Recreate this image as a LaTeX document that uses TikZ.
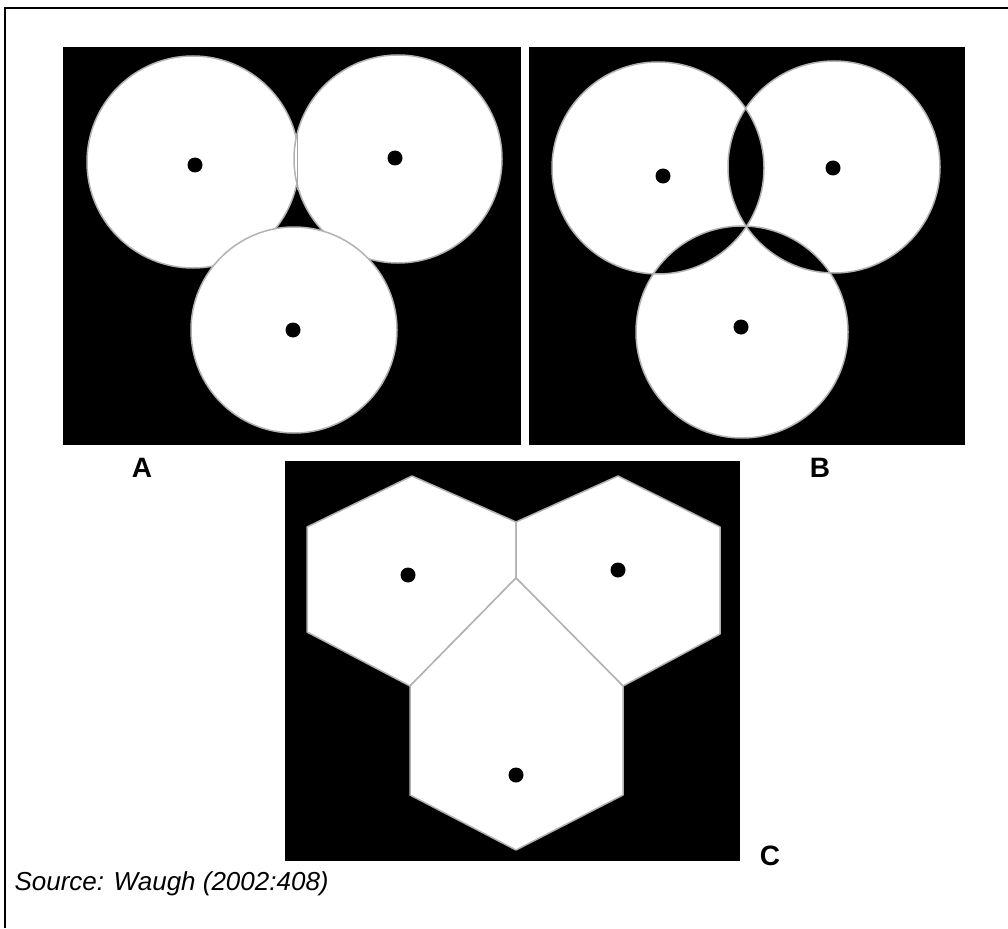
\documentclass[tikz,border=0pt]{standalone}
\usepackage{fontspec}
\setmainfont{Liberation Sans}
\begin{document}
\begin{tikzpicture}[x=1pt,y=-1pt,
  panel/.style={fill=black},
  disc/.style={fill=white,draw=gray!60,line width=1.5pt},
  rim/.style={draw=gray!60,line width=1.5pt},
  dot/.style={fill=black},
  lab/.style={font=\fontsize{28}{30}\selectfont\bfseries,anchor=center}]
\useasboundingbox (0,0) rectangle (1008,928);
% frame (cropped page border)
\draw[line width=2pt] (5,928) -- (5,8) -- (1008,8);
% ---------- Panel A
\fill[panel] (63,47) rectangle (521,445);
\coordinate (aL) at (193,162);
\coordinate (aR) at (398,159);
\coordinate (aB) at (294,330);
\draw[disc] (aL) circle (106);
\draw[disc] (aR) circle (104);
\draw[disc] (aB) circle (103);
\draw[gray!70,line width=1pt] (297,135) -- (297,190);
\fill[dot] (195,165) circle (7.5);
\fill[dot] (395,158) circle (7.5);
\fill[dot] (293,330) circle (7.5);
% ---------- Panel B
\fill[panel] (529,47) rectangle (965,445);
\coordinate (bL) at (658,168);
\coordinate (bR) at (834,167);
\coordinate (bB) at (742,332);
\fill[white,even odd rule] (bL) circle (106) (bR) circle (106) (bB) circle (106);
\foreach \c in {bL,bR,bB} \draw[rim] (\c) circle (106);
\fill[dot] (663,176) circle (7.5);
\fill[dot] (833,168) circle (7.5);
\fill[dot] (741,327) circle (7.5);
% ---------- Panel C
\fill[panel] (285,461) rectangle (740,861);
\coordinate (j) at (516,578);
\coordinate (jt) at (516,522);
\coordinate (lb) at (410,686);
\coordinate (rb) at (623,686);
\draw[disc,line join=round] (412,476) -- (jt) -- (j) -- (lb) -- (307,632) -- (307,527) -- cycle;
\draw[disc,line join=round] (618,476) -- (720,527) -- (720,634) -- (rb) -- (j) -- (jt) -- cycle;
\draw[disc,line join=round] (j) -- (rb) -- (623,795) -- (516,850) -- (410,795) -- (lb) -- cycle;
\fill[dot] (408,575) circle (7.5);
\fill[dot] (618,570) circle (7.5);
\fill[dot] (516,775) circle (7.5);
% ---------- labels
\node[lab] (la) at (142,468) {A};
\node[lab] (lbb) at (820,468) {B};
\node[lab] (lc) at (770,856) {C};
\node[anchor=base west,font=\fontsize{26}{28}\selectfont\itshape] (src) at (11,890) {Source: Waugh (2002:408)};
\end{tikzpicture}
\end{document}
